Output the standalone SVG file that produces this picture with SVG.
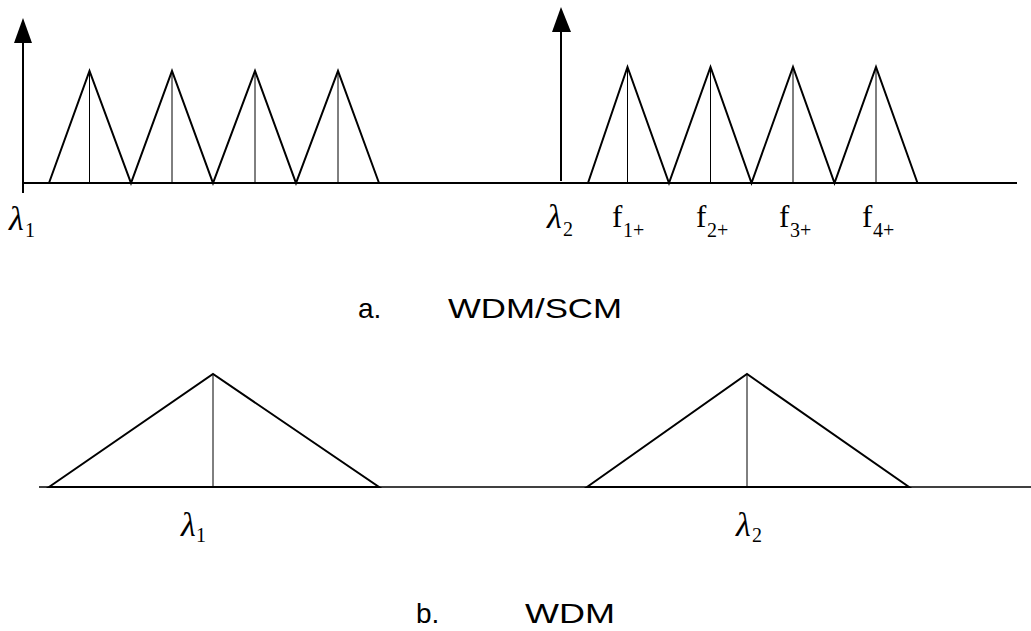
<svg xmlns="http://www.w3.org/2000/svg" width="1031" height="631" viewBox="0 0 1031 631">
<style>
.ax{stroke:#000;stroke-width:2;fill:none}
.tri{stroke:#000;stroke-width:2;fill:none;stroke-linejoin:miter}
.mid{stroke:#000;stroke-width:1;fill:none}
.lam{font-family:"Liberation Serif",serif;font-style:italic;font-size:34px;fill:#000}
.f{font-family:"Liberation Serif",serif;font-size:31px;fill:#000}
.sub{font-family:"Liberation Serif",serif;font-size:20px;fill:#000}
.cap{font-family:"Liberation Sans",Arial,sans-serif;font-size:28px;fill:#000}
</style>
<g id="connectors">
<line class="ax" x1="23" y1="183" x2="1017" y2="183"/>
<line class="ax" x1="23" y1="193" x2="23" y2="43"/>
<path d="M14,43 L23,18 L32,43 Z" fill="#000"/>
<line class="ax" x1="561" y1="181" x2="561" y2="32"/>
<path d="M552,32 L561,7 L571,32 Z" fill="#000"/>
<line stroke="#000" stroke-width="1.5" x1="39" y1="487" x2="1031" y2="487"/>
</g>
<g id="wdmscm-left">
<polyline class="tri" points="49,183 89.5,71 131,183 172,71 213,183 255,71 296,183 338,71 379,183"/>
<line class="mid" x1="89.5" y1="71" x2="89.5" y2="183"/>
<line class="mid" x1="172" y1="71" x2="172" y2="183"/>
<line class="mid" x1="255" y1="71" x2="255" y2="183"/>
<line class="mid" x1="338" y1="71" x2="338" y2="183"/>
</g>
<g id="wdmscm-right">
<polyline class="tri" points="588,183 627.5,67 669,183 710.5,67 751.5,183 793,67 834.5,183 876,67 917.5,183"/>
<line class="mid" x1="627.5" y1="67" x2="627.5" y2="183"/>
<line class="mid" x1="710.5" y1="67" x2="710.5" y2="183"/>
<line class="mid" x1="793" y1="67" x2="793" y2="183"/>
<line class="mid" x1="876" y1="67" x2="876" y2="183"/>
</g>
<g id="labels-top">
<text class="lam" x="9" y="230">λ</text><text class="sub" x="25" y="237">1</text>
<text class="lam" x="547" y="228">λ</text><text class="sub" x="563" y="236">2</text>
<text class="f" x="612" y="227">f</text><text class="sub" x="623" y="237">1+</text>
<text class="f" x="696" y="227">f</text><text class="sub" x="707" y="237">2+</text>
<text class="f" x="779" y="227">f</text><text class="sub" x="790" y="237">3+</text>
<text class="f" x="862" y="227">f</text><text class="sub" x="873" y="237">4+</text>
</g>
<g id="caption-a">
<text class="cap" x="358" y="318">a.</text>
<text class="cap" x="448" y="318" textLength="174" lengthAdjust="spacingAndGlyphs">WDM/SCM</text>
</g>
<g id="wdm-1">
<polygon class="tri" points="49,487 213,374 379,487"/>
<line class="mid" x1="213" y1="374" x2="213" y2="487"/>
</g>
<g id="wdm-2">
<polygon class="tri" points="587,487 747,374 909,487"/>
<line class="mid" x1="747" y1="374" x2="747" y2="487"/>
</g>
<g id="labels-bottom">
<text class="lam" x="181" y="536">λ</text><text class="sub" x="196" y="542">1</text>
<text class="lam" x="736" y="536">λ</text><text class="sub" x="752" y="542">2</text>
</g>
<g id="caption-b">
<text class="cap" x="416" y="623">b.</text>
<text class="cap" x="525" y="623" textLength="90" lengthAdjust="spacingAndGlyphs">WDM</text>
</g>
</svg>
